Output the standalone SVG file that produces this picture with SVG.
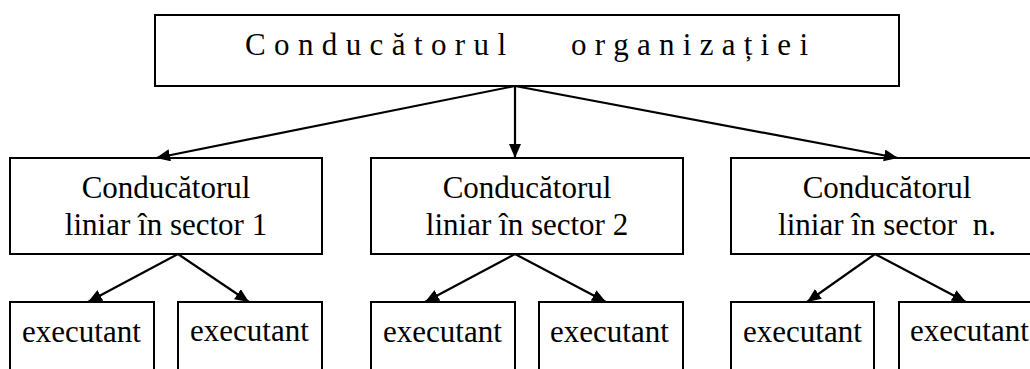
<svg xmlns="http://www.w3.org/2000/svg" width="1030" height="369" viewBox="0 0 1030 369">
<style>
.box{fill:#fff;stroke:#000;stroke-width:2}
text{font-family:'Liberation Serif',Tinos,'DejaVu Serif',serif;font-size:31px;fill:#000}
.c{text-anchor:middle}
.conn{stroke:#000;stroke-width:2.2;fill:none;marker-end:url(#ah)}
</style>
<defs>
<marker id="ah" markerUnits="userSpaceOnUse" markerWidth="16" markerHeight="14" refX="14" refY="6" orient="auto">
<path d="M0,0 L14,6 L0,12 Z" fill="#000"/>
</marker>
</defs>
<rect width="1030" height="369" fill="#fff"/>
<g id="top">
<rect class="box" x="155" y="15" width="744" height="71"/>
<text x="245" y="55" textLength="261" lengthAdjust="spacing" xml:space="preserve">C o n d u c ă t o r u l</text>
<text x="571" y="55" textLength="237" lengthAdjust="spacing" xml:space="preserve">o r g a n i z a ț i e i</text>
</g>
<g id="sector1">
<rect class="box" x="10" y="158" width="312" height="96"/>
<text class="c" x="166" y="198">Conducătorul</text>
<text class="c" x="166" y="235">liniar în sector 1</text>
</g>
<g id="sector2">
<rect class="box" x="371" y="158" width="312" height="96"/>
<text class="c" x="527" y="198">Conducătorul</text>
<text class="c" x="527" y="235">liniar în sector 2</text>
</g>
<g id="sectorn">
<rect class="box" x="731" y="158" width="312" height="96"/>
<text class="c" x="887" y="198">Conducătorul</text>
<text class="c" x="887" y="235" xml:space="preserve">liniar în sector  n.</text>
</g>
<g id="exec1a"><rect class="box" x="10" y="302" width="144" height="80"/><text x="22" y="342">executant</text></g>
<g id="exec1b"><rect class="box" x="178" y="302" width="144" height="80"/><text x="190" y="341">executant</text></g>
<g id="exec2a"><rect class="box" x="371" y="302" width="144" height="80"/><text x="383" y="342">executant</text></g>
<g id="exec2b"><rect class="box" x="539" y="302" width="144" height="80"/><text x="550" y="342">executant</text></g>
<g id="execna"><rect class="box" x="731" y="302" width="143" height="80"/><text x="743" y="342">executant</text></g>
<g id="execnb"><rect class="box" x="899" y="302" width="144" height="80"/><text x="910" y="341">executant</text></g>
<g id="connectors">
<line class="conn" x1="515" y1="86" x2="156" y2="158"/>
<line class="conn" x1="515" y1="86" x2="515" y2="158"/>
<line class="conn" x1="515" y1="86" x2="898" y2="158"/>
<line class="conn" x1="178" y1="254" x2="88" y2="302"/>
<line class="conn" x1="178" y1="254" x2="249" y2="302"/>
<line class="conn" x1="515" y1="254" x2="425" y2="302"/>
<line class="conn" x1="515" y1="254" x2="606" y2="302"/>
<line class="conn" x1="875" y1="254" x2="807" y2="302"/>
<line class="conn" x1="875" y1="254" x2="966" y2="302"/>
</g>
</svg>
